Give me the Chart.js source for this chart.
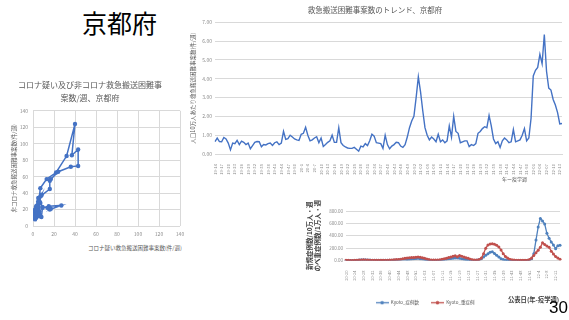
<!DOCTYPE html>
<html><head><meta charset="utf-8">
<script src="https://cdn.jsdelivr.net/npm/chart.js@4.4.1/dist/chart.umd.min.js"></script>
<style>
html,body{margin:0;padding:0;background:#fff;width:569px;height:320px;overflow:hidden;font-family:"Noto Sans CJK JP","Noto Sans",sans-serif;}
.abs{position:absolute;white-space:nowrap;line-height:1;}
canvas{position:absolute;}
</style></head><body>
<div class="abs" style="left:82px;top:10px;font-size:25px;color:#000;">京都府</div>
<canvas id="cA" width="200" height="168" style="left:0;top:70px"></canvas>
<canvas id="cB" width="381" height="185" style="left:188px;top:0"></canvas>
<canvas id="cC" width="279" height="115" style="left:290px;top:200px"></canvas>
<div class="abs" style="left:88px;top:246px;font-size:5.5px;color:#595959;">コロナ疑い救急搬送困難事案数(件/週)</div>
<div class="abs" style="left:502px;top:176px;font-size:5px;color:#595959;">年ー疫学週</div>
<div class="abs" style="left:508px;top:297px;font-size:6.3px;font-weight:bold;color:#404040;">公表日(年-疫学週)</div>
<div class="abs" style="left:549px;top:299px;font-size:17px;color:#000;font-family:'Liberation Sans',Arial,sans-serif;">30</div>
<script>
// ---------- data: scatter (weekly, in time order) ----------
const suspectCases = [2,1,3,2,4,1,0,2,3,1, 2,5,4,3,6,5,4,7,5,3, 2,4,6,8,9,15,27,16,17,14, 9,6,5,7,8,5,4,3,2,6, 5,7,13,22,32,40,37,43,43,36, 24,17,16,16,8,6];
const nonCovidCases = [15,12,10,8,13,18,17,20,22,14, 9,12,16,12,18,22,25,28,30,24, 19,15,12,11,22,24,25,20,21,22, 23,30,34,36,38,28,20,13,11,14, 24,46,57,65,85,124,86,93,73,72, 66,57,55,45,37,30];

// ---------- data: trend per 100k (weekly from 19-14) ----------
const trendTickLabels = ['19-14','19-17','19-20','19-23','19-26','19-29','19-32','19-35','19-38','19-41','19-44','19-47','19-50','20-1','20-4','20-7','20-10','20-13','20-16','20-19','20-22','20-25','20-28','20-31','20-34','20-37','20-40','20-43','20-46','20-49','20-52','21-02','21-05','21-08','21-11','21-14','21-17','21-20','21-23','21-26','21-29','21-32','21-35','21-38','21-41','21-44','21-47','21-50','22-01','22-04','22-07','22-10','22-13'];
const trendValues = [
0.66,0.85,0.66,0.65,0.88,0.8,0.58,0.22,0.58,0.55,
0.72,0.5,0.68,0.62,0.5,0.58,0.28,0.45,0.62,0.66,
0.65,0.38,0.5,0.48,0.55,0.58,0.45,0.6,0.65,0.5,
0.58,1.2,0.78,0.82,1.0,0.9,0.8,0.75,0.72,1.05,
1.1,1.42,1.0,0.7,0.75,0.85,0.92,0.6,0.85,0.4,
0.5,0.62,0.7,1.0,0.62,0.62,1.4,0.6,0.45,0.38,
0.32,0.3,0.3,0.35,0.25,0.15,0.42,0.38,0.55,0.45,
0.7,1.05,0.95,0.6,0.58,0.55,0.3,1.0,0.5,0.28,
0.42,0.5,0.62,0.6,0.42,0.35,0.5,0.9,1.4,1.75,
2.0,3.0,4.1,3.3,2.3,1.4,1.0,0.75,0.9,0.8,
0.65,1.05,0.65,0.75,0.6,0.7,1.5,0.9,2.0,1.2,
1.1,0.6,0.65,0.7,0.7,0.4,0.5,0.45,0.55,1.1,
1.2,1.35,1.45,1.4,2.05,1.5,0.8,0.55,0.65,0.35,
0.7,0.85,0.75,0.6,0.65,1.3,0.65,0.7,0.75,1.0,
1.35,0.7,0.85,1.9,4.15,4.45,4.6,5.3,4.8,6.35,
4.4,3.5,3.4,2.9,2.6,2.2,1.6,1.62];

// ---------- data: cases (weekly from 20-20) ----------
const caseTickLabels = ['20-20','20-24','20-28','20-32','20-36','20-40','20-44','20-48','20-52','21-03','21-07','21-11','21-15','21-19','21-23','21-27','21-31','21-35','21-39','21-43','21-48','21-52','22-4','22-8','22-12'];
const newCases = [
2,1,1,1,2,4,8,12,14,12,
10,8,6,5,4,4,3,3,3,4,
5,6,8,10,14,18,22,20,18,22,
25,28,32,35,30,25,18,10,6,4,
3,3,4,6,10,16,22,28,32,38,
42,40,35,28,20,14,10,7,5,6,
8,15,30,55,85,110,135,140,115,85,
55,30,15,8,4,2,2,1,1,1,
1,1,2,3,8,30,110,330,540,680,
640,590,440,360,300,250,190,240,245];
const severeCases = [
3,3,2,2,3,5,8,10,12,10,
8,6,5,4,4,3,3,4,5,6,
8,10,12,15,18,22,28,35,40,45,
48,50,52,55,52,45,35,25,15,10,
8,8,10,14,20,28,38,48,58,68,
75,62,80,70,58,45,35,22,12,8,
8,15,40,110,200,250,265,270,262,245,
220,170,110,65,40,22,12,8,5,4,
3,3,4,6,15,40,80,125,165,215,
285,260,235,215,150,105,65,40,22];

// category label builders (week labels)
function weekLabels(start, counts){const out=[];let [y,w]=start;for(let n=0;n<counts.total;n++){out.push(y+'-'+w);w++;const max=counts.weeks[y]||52;if(w>max){w=1;y++;}}return out;}
const yearWeeks = {19:52,20:53,21:52,22:52};
const trendCats = weekLabels([19,14],{total:trendValues.length,weeks:yearWeeks});
const caseCats = weekLabels([20,20],{total:newCases.length,weeks:yearWeeks});

Chart.defaults.font.family = '"Noto Sans CJK JP","Noto Sans",sans-serif';
const BLUE='#4472C4', BLUE2='#4F81BD', RED='#C0504D', GRID='#d9d9d9', TICK='#8c8c8c', TXT='#595959';

// ---------- chart A: scatter ----------
new Chart(document.getElementById('cA'),{
  type:'scatter',
  data:{datasets:[{data:suspectCases.map((x,i)=>({x:x,y:nonCovidCases[i]})),showLine:true,borderColor:BLUE,backgroundColor:BLUE,borderWidth:1.5,pointRadius:2.2,pointBorderWidth:0,tension:0}]},
  options:{responsive:false,animation:false,devicePixelRatio:1,
    layout:{padding:{left:0,right:20,top:0,bottom:0}},
    plugins:{legend:{display:false},tooltip:{enabled:false},
      title:{display:true,text:['コロナ疑い及び非コロナ救急搬送困難事','案数/週、京都府'],font:{size:8,weight:'normal',lineHeight:1.55},color:TXT,padding:{top:9,bottom:7}}},
    scales:{
      x:{type:'linear',min:0,max:140,ticks:{stepSize:20,font:{size:5},color:TICK,padding:5},grid:{color:GRID,drawTicks:false},border:{display:false},afterFit(s){s.height=12;}},
      y:{type:'linear',min:0,max:140,ticks:{stepSize:20,font:{size:5},color:TICK,padding:5},grid:{color:GRID,drawTicks:false},border:{display:false},
         title:{display:true,text:'非コロナ救急搬送困難事案数(件/週)',font:{size:5.5},color:TXT,padding:{top:11,bottom:0}},afterFit(s){s.width=33;}}
    }}
});

// ---------- chart B: trend ----------
new Chart(document.getElementById('cB'),{
  type:'line',
  data:{labels:trendCats,datasets:[{data:trendValues,borderColor:BLUE,borderWidth:1.4,pointRadius:0,tension:0,fill:false}]},
  options:{responsive:false,animation:false,devicePixelRatio:1,
    layout:{padding:{left:0,right:7,top:0,bottom:0}},
    plugins:{legend:{display:false},tooltip:{enabled:false},
      title:{display:true,text:'救急搬送困難事案数のトレンド、京都府',font:{size:7.5,weight:'normal',lineHeight:1.2},color:TXT,padding:{top:5.5,bottom:7.8}}},
    scales:{
      x:{type:'category',offset:false,grid:{display:false},border:{color:GRID},
         ticks:{autoSkip:false,minRotation:90,maxRotation:90,font:{size:4.2},color:TICK,padding:2,
           callback:(v,i)=> i%3===0 ? trendTickLabels[i/3] : null},afterFit(s){s.height=31;}},
      y:{min:0,max:7,ticks:{stepSize:1,font:{size:5},color:TICK,padding:3,callback:v=>Number(v).toFixed(2)},
         grid:{color:GRID,drawTicks:false},border:{display:false},
         title:{display:true,text:'人口10万人あたり救急搬送困難事案数(件/週)',font:{size:5.5},color:TXT,padding:{top:2,bottom:0}},afterFit(s){s.width=27;}}
    }}
});

// ---------- chart C: cases ----------
function legendIcon(color){const c=document.createElement('canvas');c.width=13;c.height=5;const g=c.getContext('2d');g.strokeStyle=color;g.lineWidth=1.3;g.beginPath();g.moveTo(0,2.5);g.lineTo(13,2.5);g.stroke();g.fillStyle=color;g.beginPath();g.arc(6.5,2.5,1.8,0,Math.PI*2);g.fill();return c;}
new Chart(document.getElementById('cC'),{
  type:'line',
  data:{labels:caseCats,datasets:[
    {label:'Kyoto_症例数',data:newCases,borderColor:BLUE2,backgroundColor:BLUE2,borderWidth:1.3,pointRadius:1.5,pointBorderWidth:0,tension:0,order:1},
    {label:'Kyoto_重症例',data:severeCases,borderColor:RED,backgroundColor:RED,borderWidth:1.3,pointRadius:1.5,pointBorderWidth:0,tension:0,order:0}]},
  options:{responsive:false,animation:false,devicePixelRatio:1,
    layout:{padding:{left:0,right:9,top:11,bottom:0}},
    plugins:{tooltip:{enabled:false},title:{display:false},
      legend:{display:true,position:'bottom',
        labels:{usePointStyle:true,pointStyleWidth:13,boxHeight:5,font:{size:4.5},color:TXT,padding:12,
          generateLabels:(chart)=>chart.data.datasets.map((d,i)=>({text:d.label,fillStyle:d.borderColor,strokeStyle:d.borderColor,lineWidth:0,pointStyle:legendIcon(d.borderColor),hidden:false,datasetIndex:i,fontColor:TXT}))}}},
    scales:{
      x:{type:'category',offset:false,grid:{display:false},border:{color:GRID},
         ticks:{autoSkip:false,minRotation:90,maxRotation:90,font:{size:4},color:TICK,padding:2,
           callback:(v,i)=> i%4===0 ? caseTickLabels[i/4] : null},afterFit(s){s.height=28;}},
      y:{min:0,max:800,ticks:{stepSize:100,font:{size:4.5},color:TICK,padding:3,callback:v=>Number(v).toFixed(2)},
         grid:{color:GRID,drawTicks:false},border:{display:false},
         title:{display:true,text:['新規症例数/10万人・週','のべ重症例数/1万人・週'],font:{size:6.5,weight:'bold',lineHeight:1.1},color:'#404040',padding:{top:16.4,bottom:0}},afterFit(s){s.width=56;}}
    }}
});
</script>
</body></html>
